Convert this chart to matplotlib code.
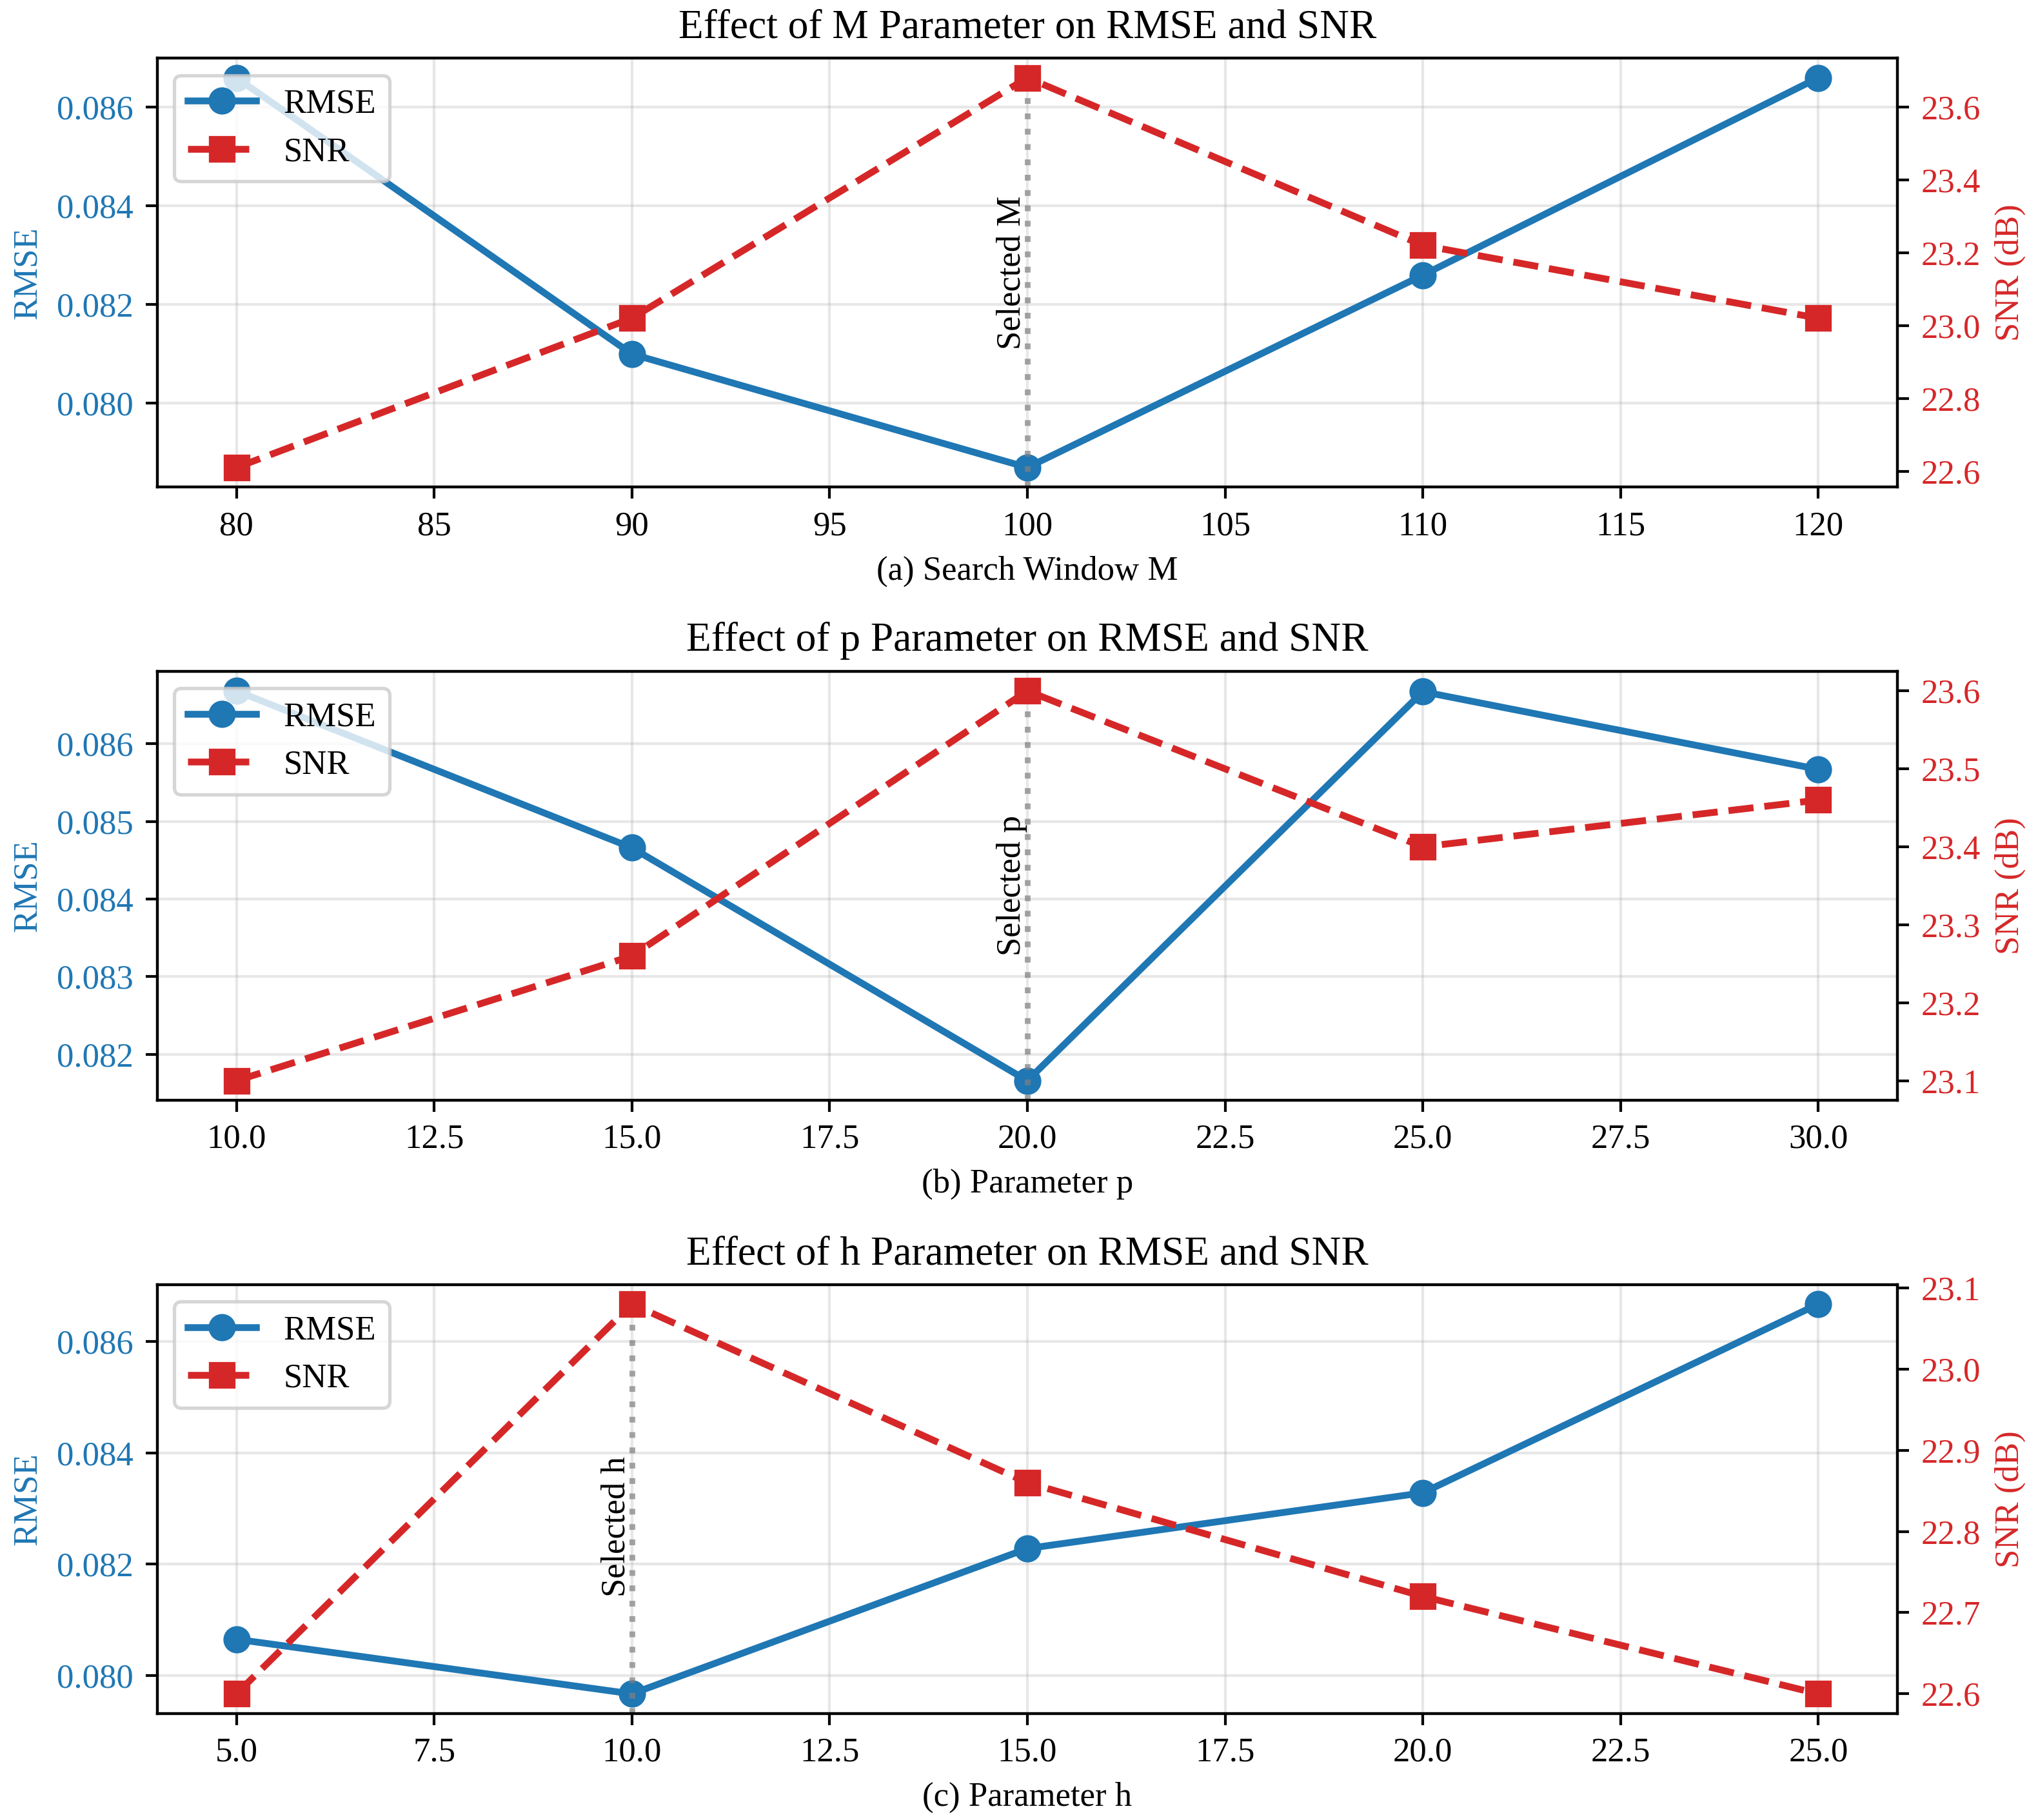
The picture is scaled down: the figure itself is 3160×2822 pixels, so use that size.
import matplotlib
matplotlib.use("Agg")
import matplotlib.pyplot as plt

plt.rcParams["font.family"] = ["Liberation Serif", "DejaVu Serif"]

# ---- data -----------------------------------------------------------------
M_vals = [80, 90, 100, 110, 120]
rmse_M = [0.0866, 0.0810, 0.0787, 0.0826, 0.0866]
snr_M = [22.61, 23.02, 23.68, 23.22, 23.02]

p_vals = [10, 15, 20, 25, 30]
rmse_p = [0.08668, 0.08466, 0.08166, 0.08667, 0.08567]
snr_p = [23.10, 23.26, 23.60, 23.40, 23.46]

h_vals = [5, 10, 15, 20, 25]
rmse_h = [0.08065, 0.07967, 0.08228, 0.08328, 0.08667]
snr_h = [22.60, 23.08, 22.86, 22.72, 22.60]

selected = [100, 20, 10]
names = ["M", "p", "h"]
xlabels = ["(a) Search Window M", "(b) Parameter p", "(c) Parameter h"]

BLUE = "#1f77b4"
RED = "#d62728"

panels = [
    (M_vals, rmse_M, snr_M),
    (p_vals, rmse_p, snr_p),
    (h_vals, rmse_h, snr_h),
]
text_y = [0.5, 0.5, 0.435]   # vertical spot of the "Selected" label (axes fraction)

fig, axes = plt.subplots(3, 1, figsize=(3160 / 380, 2822 / 380))
fig.subplots_adjust(left=0.0772, right=0.931, top=0.968, bottom=0.0586, hspace=0.43)

for i, (ax1, (x, rmse, snr)) in enumerate(zip(axes, panels)):
    l1, = ax1.plot(x, rmse, "-o", color=BLUE, linewidth=2, markersize=7, label="RMSE")
    ax1.set_ylabel("RMSE", color=BLUE, fontsize=10)
    ax1.tick_params(axis="y", labelcolor=BLUE, labelsize=10)
    ax1.tick_params(axis="x", labelsize=10)
    ax1.set_xlabel(xlabels[i], fontsize=10)
    ax1.grid(True, alpha=0.3)

    ax2 = ax1.twinx()
    l2, = ax2.plot(x, snr, "--s", color=RED, linewidth=2, markersize=7, label="SNR")
    ax2.set_ylabel("SNR (dB)", color=RED, fontsize=10)
    ax2.tick_params(axis="y", labelcolor=RED, labelsize=10)

    ax1.axvline(selected[i], color="gray", linestyle=":", linewidth=1.7, alpha=0.7)
    ax1.text(selected[i], text_y[i], f"Selected {names[i]}", rotation=90,
             ha="right", va="center", fontsize=10,
             transform=ax1.get_xaxis_transform())

    ax1.set_title(f"Effect of {names[i]} Parameter on RMSE and SNR", fontsize=12)
    ax2.legend([l1, l2], ["RMSE", "SNR"], loc="upper left", fontsize=10)

fig.savefig("out.png", dpi=380)
